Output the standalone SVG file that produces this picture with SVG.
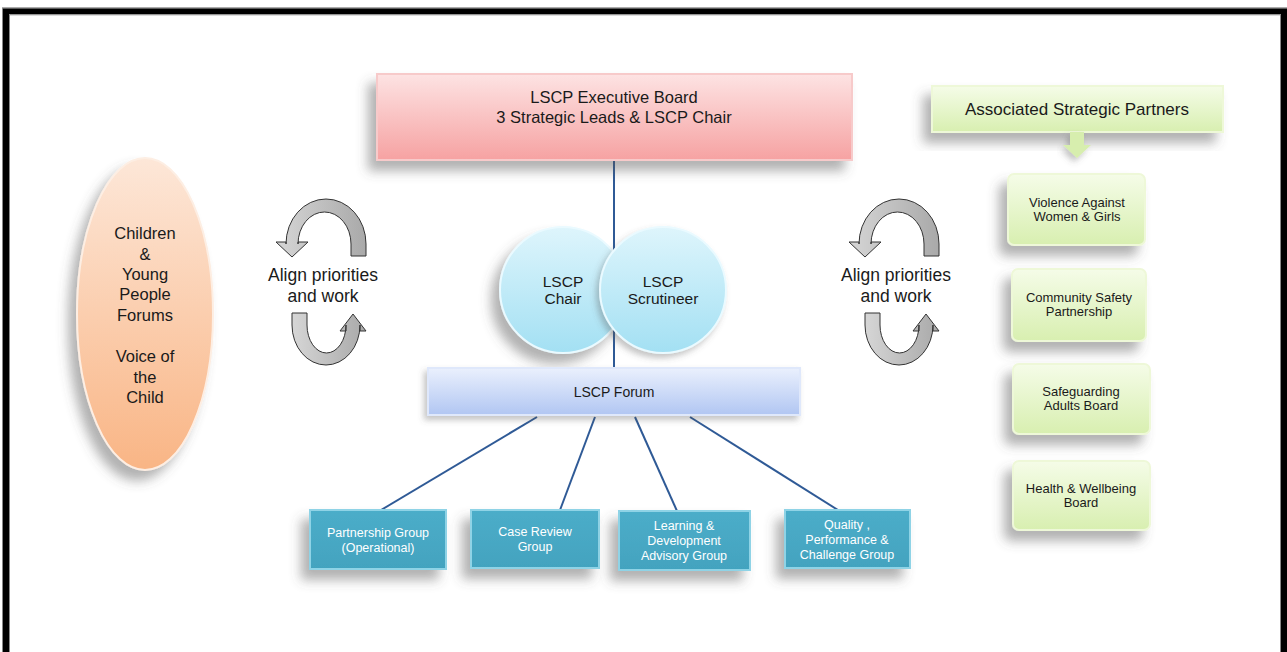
<svg xmlns="http://www.w3.org/2000/svg" width="1287" height="652" viewBox="0 0 1287 652">
<defs>
<style>
text{font-family:"Liberation Sans",Arial,sans-serif;text-anchor:middle;fill:#1a1a1a}
.t15{font-size:16.5px}
.t17{font-size:17px}
.t16{font-size:16.5px}
.t18{font-size:17.5px}
.t14{font-size:15.5px}
.t12{font-size:13px}
.w{fill:#ffffff;font-size:12.5px}
.conn{stroke:#2f5a96;stroke-width:2;fill:none}
.grp{fill:url(#gTeal);stroke:#8fd3e6;stroke-width:2}
.grn{fill:url(#gGreen);stroke:#eef8d8;stroke-width:2}
.cyc{fill:url(#gGrey);stroke:#333;stroke-width:1}
</style>
<linearGradient id="gPink" x1="0" y1="0" x2="0" y2="1"><stop offset="0" stop-color="#fde3e3"/><stop offset="1" stop-color="#f6a2a2"/></linearGradient>
<linearGradient id="gBlue" x1="0" y1="0" x2="0" y2="1"><stop offset="0" stop-color="#eaf0fd"/><stop offset="1" stop-color="#b1c6f2"/></linearGradient>
<linearGradient id="gCyan" x1="0" y1="0" x2="0" y2="1"><stop offset="0" stop-color="#def5fc"/><stop offset="1" stop-color="#a3e0f3"/></linearGradient>
<linearGradient id="gPeach" x1="0" y1="0" x2="0" y2="1"><stop offset="0" stop-color="#fde7d8"/><stop offset="1" stop-color="#f9b585"/></linearGradient>
<linearGradient id="gGreen" x1="0" y1="0" x2="0" y2="1"><stop offset="0" stop-color="#f5fce8"/><stop offset="1" stop-color="#d8efb0"/></linearGradient>
<linearGradient id="gTeal" x1="0" y1="0" x2="0" y2="1"><stop offset="0" stop-color="#4cadc9"/><stop offset="1" stop-color="#43a3bf"/></linearGradient>
<linearGradient id="gGrey" x1="0" y1="0" x2="1" y2="0"><stop offset="0" stop-color="#d6d6d6"/><stop offset="1" stop-color="#a9a9a9"/></linearGradient>
<filter id="sh" x="-20%" y="-20%" width="140%" height="160%"><feDropShadow dx="-8" dy="10" stdDeviation="6" flood-color="#555" flood-opacity="0.45"/></filter>
<filter id="shs" x="-20%" y="-20%" width="140%" height="160%"><feDropShadow dx="-3" dy="4" stdDeviation="3" flood-color="#555" flood-opacity="0.35"/></filter>
<g id="cycle">
<path class="cyc" d="M366 256 L366 244 A40 45 0 0 0 286 244 L286 242 L276 242 L292 257 L308 242 L298 242 L298 244 A26.5 32 0 0 1 351 244 L351 256 Z"/>
<path class="cyc" d="M292 313 L292 325 A34 40 0 0 0 360 325 L360 331 L366 331 L353 314 L340 331 L346 331 L346 325 A19.5 28 0 0 1 307 325 L307 313 Z"/>
<text class="t18" x="323" y="281">Align priorities</text>
<text class="t18" x="323" y="302">and work</text>
</g>
</defs>
<rect width="1287" height="652" fill="#ffffff"/>
<rect x="6" y="11.3" width="1278" height="660" fill="none" stroke="#000" stroke-width="6"/>
<rect x="2.5" y="7.8" width="1285" height="667" fill="none" stroke="#888" stroke-width="1"/>
<rect x="9.5" y="14.8" width="1271" height="653" fill="none" stroke="#888" stroke-width="1"/>

<g id="connectors">
<line class="conn" x1="614" y1="160" x2="614" y2="368"/>
<line class="conn" x1="537" y1="417" x2="381" y2="510"/>
<line class="conn" x1="595" y1="417" x2="560" y2="510"/>
<line class="conn" x1="635" y1="417" x2="677" y2="511"/>
<line class="conn" x1="690" y1="417" x2="838" y2="510"/>
</g>

<g id="exec-board">
<rect x="377" y="74" width="475" height="86" fill="url(#gPink)" stroke="#f7caca" stroke-width="2" filter="url(#sh)"/>
<text class="t15" x="614" y="103">LSCP Executive Board</text>
<text class="t15" x="614" y="123">3 Strategic Leads &amp; LSCP Chair</text>
</g>

<g id="lscp-chair">
<circle cx="563" cy="290" r="63" fill="url(#gCyan)" stroke="#eafaff" stroke-width="2" filter="url(#sh)"/>
<text class="t14" x="563" y="287">LSCP</text>
<text class="t14" x="563" y="304">Chair</text>
</g>
<g id="lscp-scrutineer">
<circle cx="663" cy="290" r="63" fill="url(#gCyan)" stroke="#eafaff" stroke-width="2" filter="url(#shs)"/>
<text class="t14" x="663" y="287">LSCP</text>
<text class="t14" x="663" y="304">Scrutineer</text>
</g>

<g id="lscp-forum">
<rect x="428" y="368" width="372" height="47" fill="url(#gBlue)" stroke="#dfe8fb" stroke-width="2" filter="url(#shs)"/>
<text x="614" y="397" style="font-size:14px">LSCP Forum</text>
</g>

<g id="partnership-group">
<rect class="grp" x="310" y="510" width="136" height="59" filter="url(#sh)"/>
<text class="w" x="378" y="537">Partnership Group</text>
<text class="w" x="378" y="552">(Operational)</text>
</g>
<g id="case-review-group">
<rect class="grp" x="471" y="510" width="128" height="58" filter="url(#sh)"/>
<text class="w" x="535" y="536">Case Review</text>
<text class="w" x="535" y="551">Group</text>
</g>
<g id="learning-group">
<rect class="grp" x="619" y="511" width="131" height="59" filter="url(#sh)"/>
<text class="w" x="684" y="530">Learning &amp;</text>
<text class="w" x="684" y="545">Development</text>
<text class="w" x="684" y="560">Advisory Group</text>
</g>
<g id="quality-group">
<rect class="grp" x="785" y="510" width="125" height="58" filter="url(#sh)"/>
<text class="w" x="847" y="529">Quality ,</text>
<text class="w" x="847" y="544">Performance &amp;</text>
<text class="w" x="847" y="559">Challenge Group</text>
</g>

<g id="children-forums">
<ellipse cx="145" cy="314" rx="68" ry="156" fill="url(#gPeach)" stroke="#fdeee3" stroke-width="2" filter="url(#sh)"/>
<text class="t16" x="145" y="239">Children</text>
<text class="t16" x="145" y="260">&amp;</text>
<text class="t16" x="145" y="280">Young</text>
<text class="t16" x="145" y="300">People</text>
<text class="t16" x="145" y="321">Forums</text>
<text class="t16" x="145" y="362">Voice of</text>
<text class="t16" x="145" y="383">the</text>
<text class="t16" x="145" y="403">Child</text>
</g>

<g id="align-left"><use href="#cycle"/></g>
<g id="align-right"><use href="#cycle" transform="translate(573,0)"/></g>

<g id="associated-partners">
<rect x="932" y="86" width="291" height="46" fill="url(#gGreen)" stroke="#eef8d8" stroke-width="2" filter="url(#sh)"/>
<text class="t17" x="1077" y="115">Associated Strategic Partners</text>
<path d="M1070 132 L1084 132 L1084 145 L1091 145 L1077 158 L1063 145 L1070 145 Z" fill="#d7eeae" filter="url(#shs)"/>
</g>

<g id="vawg">
<rect class="grn" x="1008" y="174" width="137" height="71" rx="6" filter="url(#sh)"/>
<text class="t12" x="1077" y="207">Violence Against</text>
<text class="t12" x="1077" y="221">Women &amp; Girls</text>
</g>
<g id="community-safety">
<rect class="grn" x="1012" y="269" width="134" height="72" rx="6" filter="url(#sh)"/>
<text class="t12" x="1079" y="302">Community Safety</text>
<text class="t12" x="1079" y="316">Partnership</text>
</g>
<g id="safeguarding-adults">
<rect class="grn" x="1013" y="364" width="137" height="70" rx="6" filter="url(#sh)"/>
<text class="t12" x="1081" y="396">Safeguarding</text>
<text class="t12" x="1081" y="410">Adults Board</text>
</g>
<g id="health-wellbeing">
<rect class="grn" x="1013" y="461" width="137" height="69" rx="6" filter="url(#sh)"/>
<text class="t12" x="1081" y="493">Health &amp; Wellbeing</text>
<text class="t12" x="1081" y="507">Board</text>
</g>
</svg>
